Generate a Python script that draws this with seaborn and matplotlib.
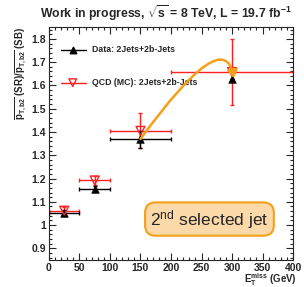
import numpy as np
import pandas as pd
import matplotlib
matplotlib.use("Agg")
import matplotlib.pyplot as plt
import seaborn as sns
from matplotlib.ticker import MultipleLocator

# data
met_center = [25, 75, 150, 300]
met_halfwidth = [25, 25, 50, 100]
data_halfwidth = [25, 25, 50, 0]
data_ratio = [1.053, 1.157, 1.368, 1.627]
data_err = [0.010, 0.012, 0.035, 0.0]
qcd_ratio = [1.062, 1.192, 1.405, 1.658]
qcd_err = [0.015, 0.020, 0.075, 0.143]

sns.set_style("ticks")
plt.rcParams["font.family"] = ["Liberation Sans", "DejaVu Sans"]
plt.rcParams["mathtext.fontset"] = "custom"
plt.rcParams["mathtext.rm"] = "Liberation Sans:bold"
plt.rcParams["mathtext.it"] = "Liberation Sans:bold"
plt.rcParams["mathtext.bf"] = "Liberation Sans:bold"

fig = plt.figure(figsize=(3.04, 2.87), dpi=100)
ax = fig.add_axes([0.161, 0.094, 0.803, 0.811])

df = pd.DataFrame({
    "MET": met_center * 2,
    "Ratio": data_ratio + qcd_ratio,
    "Sample": ["Data"] * 4 + ["QCD"] * 4,
})

# error bars
ax.errorbar(met_center, qcd_ratio, xerr=met_halfwidth, yerr=qcd_err,
            fmt="none", ecolor="#ff2020", elinewidth=1.0, capsize=1.5, zorder=2)
ax.errorbar(met_center, data_ratio, xerr=data_halfwidth, yerr=data_err,
            fmt="none", ecolor="black", elinewidth=1.0, capsize=1.5, zorder=3)

sns.scatterplot(data=df[df["Sample"] == "Data"], x="MET", y="Ratio", marker="^",
                color="black", s=30, edgecolor="black", legend=False, ax=ax, zorder=4)
sns.scatterplot(data=df[df["Sample"] == "QCD"], x="MET", y="Ratio", marker="v",
                facecolor="none", edgecolor="#ff2020", linewidth=1.0, s=40,
                legend=False, ax=ax, zorder=5)

# legend entries (ROOT-style, drawn by hand)
ax.plot([19, 60], [1.754, 1.754], color="black", lw=1.0)
ax.scatter([39], [1.754], marker="^", color="black", s=22, zorder=4)
ax.text(70, 1.754, "Data: 2Jets+2b-Jets", fontsize=6.3, fontweight="bold", va="center")
ax.plot([19, 60], [1.612, 1.612], color="#ff2020", lw=1.0)
ax.scatter([39], [1.612], marker="v", facecolor="none", edgecolor="#ff2020", s=30, zorder=4)
ax.text(70, 1.612, "QCD (MC): 2Jets+2b-Jets", fontsize=6.3, fontweight="bold", va="center")

# curved arrow
ax.annotate("", xy=(303, 1.632), xytext=(150, 1.37),
            arrowprops=dict(arrowstyle="-|>,head_length=0.45,head_width=0.3",
                            color="#f5a01a", lw=1.8, shrinkA=0, shrinkB=0,
                            connectionstyle="angle3,angleA=54,angleB=100"), zorder=6)

ax.text(263, 1.026, r"2$^{\mathregular{nd}}$ selected jet", fontsize=12.5,
        ha="center", va="center", fontweight="normal",
        bbox=dict(boxstyle="round,pad=0.3,rounding_size=0.6",
                  facecolor="#fbd9a8", edgecolor="#f5a01a", lw=1.5))

ax.set_xlim(0, 400)
ax.set_ylim(0.85, 1.85)
ax.xaxis.set_major_locator(MultipleLocator(50))
ax.xaxis.set_minor_locator(MultipleLocator(10))
ax.yaxis.set_minor_locator(MultipleLocator(0.02))
ax.set_yticks([0.9, 1.0, 1.1, 1.2, 1.3, 1.4, 1.5, 1.6, 1.7, 1.8])
ax.set_yticklabels(["0.9", "1", "1.1", "1.2", "1.3", "1.4", "1.5", "1.6", "1.7", "1.8"])
ax.tick_params(which="both", direction="in", top=True, right=True,
               labelsize=7.5, width=0.8, pad=2)
ax.tick_params(which="major", length=5)
ax.tick_params(which="minor", length=2.5)
for lab in ax.get_xticklabels() + ax.get_yticklabels():
    lab.set_fontweight("bold")
for sp in ax.spines.values():
    sp.set_linewidth(0.8)

ax.set_xlabel(r"E$_{\mathregular{T}}^{\mathregular{miss}}$ (GeV)", fontsize=7,
              fontweight="bold", ha="right", va="center")
ax.xaxis.set_label_coords(1.015, -0.085)
ax.set_ylabel(r"$\overline{\mathregular{p_{T,b2}}}$ (SR)/$\overline{\mathregular{p_{T,b2}}}$ (SB)",
              fontsize=7, fontweight="bold", loc="top", labelpad=2)
fig.text(0.546, 0.955, r"Work in progress, $\sqrt{\mathregular{s}}$ = 8 TeV, L = 19.7 fb$^{\mathregular{-1}}$",
         fontsize=8.8, fontweight="bold", ha="center", va="center")

fig.savefig("out.png", dpi=100)
